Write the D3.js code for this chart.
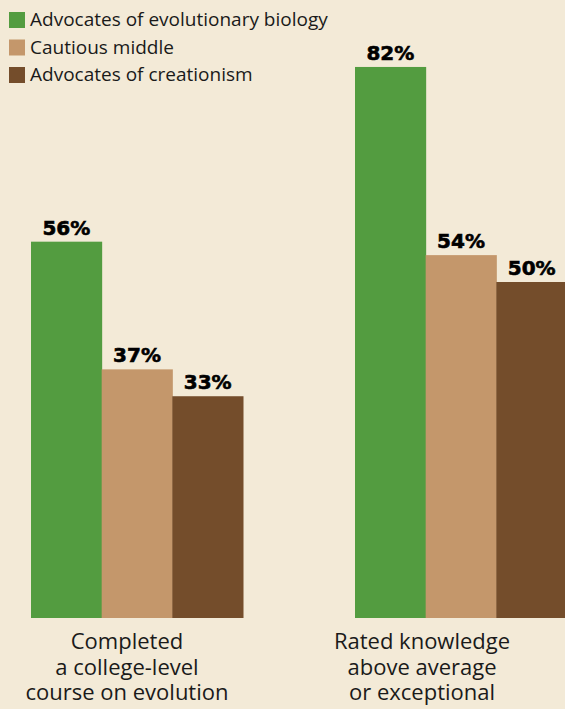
<!DOCTYPE html>
<html><head><meta charset="utf-8">
<script src="https://cdn.jsdelivr.net/npm/d3@7"></script>
<style>
html,body{margin:0;padding:0;background:#f3ead7;}
svg{display:block;}
</style></head><body>
<svg id="chart" width="565" height="709"></svg>
<script>
const categories = ["Completed a college-level course on evolution", "Rated knowledge above average or exceptional"];
const categoryLines = [["Completed","a college-level","course on evolution"],["Rated knowledge","above average","or exceptional"]];
const seriesNames = ["Advocates of evolutionary biology","Cautious middle","Advocates of creationism"];
const evolution = [56, 82];
const cautious = [37, 54];
const creationism = [33, 50];
const colors = ["#539c40","#c4976b","#744d2b"];

const svg = d3.select("#chart");
const W = 565, H = 709;
svg.append("rect").attr("width",W).attr("height",H).attr("fill","#f3ead7");

const baseline = 618;
const y = d3.scaleLinear().domain([0,100]).range([baseline, baseline-672]);
const groupX = d3.scaleOrdinal().domain(categories).range([31,355]);
const x1 = d3.scaleBand().domain(seriesNames).range([0, 212]);

const seriesVals = [evolution, cautious, creationism];
const data = [];
categories.forEach((c,i)=>{
  seriesNames.forEach((s,j)=>{ data.push({cat:c, ser:s, v:seriesVals[j][i], j}); });
});

const g = svg.append("g");
g.selectAll("rect.bar").data(data).enter().append("rect")
  .attr("class","bar")
  .attr("x", d=>groupX(d.cat)+x1(d.ser))
  .attr("width", x1.bandwidth()+0.5)
  .attr("y", d=>y(d.v))
  .attr("height", d=>baseline-y(d.v))
  .attr("fill", d=>colors[d.j]);

g.selectAll("text.val").data(data).enter().append("text")
  .attr("class","val")
  .attr("x", d=>groupX(d.cat)+x1(d.ser)+x1.bandwidth()/2)
  .attr("y", d=>y(d.v)-7)
  .attr("text-anchor","middle")
  .attr("font-family","DejaVu Sans, Verdana, sans-serif")
  .attr("font-weight","bold")
  .attr("font-size","20px")
  .attr("fill","#000")
  .attr("stroke","#000").attr("stroke-width",0.6)
  .text(d=>d.v+"%");

// category labels
const labelCenters = [127, 422];
categories.forEach((c,i)=>{
  const t = svg.append("text")
    .attr("x", labelCenters[i])
    .attr("text-anchor","middle")
    .attr("font-family","Open Sans, sans-serif")
    .attr("font-size","22px")
    .attr("fill","#1a1a1a");
  categoryLines[i].forEach((ln,k)=>{
    t.append("tspan").attr("x",labelCenters[i]).attr("y",649+k*25.5).text(ln);
  });
});

// legend
const leg = svg.append("g");
seriesNames.forEach((s,i)=>{
  const yy = 12 + i*27.5;
  leg.append("rect").attr("x",9).attr("y",yy).attr("width",16).attr("height",16).attr("fill",colors[i]);
  leg.append("text").attr("x",30).attr("y",yy+14).attr("font-family","Open Sans, sans-serif")
    .attr("font-size","19px").attr("fill","#1a1a1a").text(s);
});
</script>
</body></html>
